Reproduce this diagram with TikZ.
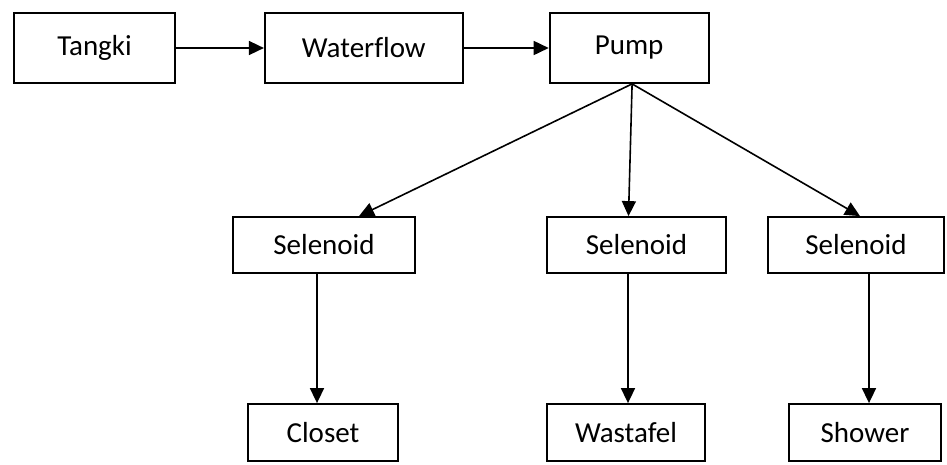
\documentclass[tikz,border=0pt]{standalone}
\usepackage{fontspec}
\setmainfont{Carlito}[Ligatures=NoCommon]
\usetikzlibrary{arrows.meta, positioning}
\tikzstyle{block}    = [rectangle, draw=black, line width=1.8pt, inner sep=0pt,
                         font=\fontsize{29}{35}\selectfont]
\tikzstyle{topblock} = [block, minimum height=70pt]
\tikzstyle{valve}    = [block, minimum height=56pt]
\tikzstyle{outlet}   = [block, minimum height=57pt]
\tikzstyle{arrow}    = [-{Triangle[length=15pt, width=14pt]}, line width=1.6pt]

\begin{document}
\begin{tikzpicture}[x=1pt, y=-1pt]
  \useasboundingbox (0,0) rectangle (947,464);

  \node[topblock, minimum width=161pt] (tangki) at (94.5,48) {Tangki};
  \node[topblock, minimum width=198pt, right=88pt of tangki] (waterflow) {Waterflow};
  \node[topblock, minimum width=159pt, right=85pt of waterflow] (pump) {Pump};

  \node[valve, minimum width=182pt] (sel1) at (324,245) {Selenoid};
  \node[valve, minimum width=179pt] (sel2) at (636.5,245) {Selenoid};
  \node[valve, minimum width=176pt] (sel3) at (856,245) {Selenoid};

  \node[outlet, minimum width=150pt] (closet) at (323,432.5) {Closet};
  \node[outlet, minimum width=158pt] (wastafel) at (626,432.5) {Wastafel};
  \node[outlet, minimum width=152pt] (shower) at (865,432.5) {Shower};

  \draw[arrow] (tangki) -- (waterflow);
  \draw[arrow] (waterflow) -- (pump);
  \draw[arrow] ([xshift=3pt]pump.south) -- ([xshift=35pt]sel1.north);
  \draw[arrow] ([xshift=3pt]pump.south) -- ([xshift=-8pt]sel2.north);
  \draw[arrow] ([xshift=3pt]pump.south) -- ([xshift=4pt]sel3.north);
  \draw[arrow] ([xshift=-7pt]sel1.south) -- ([xshift=-7pt]sel1.south |- closet.north);
  \draw[arrow] ([xshift=-8.5pt]sel2.south) -- ([xshift=-8.5pt]sel2.south |- wastafel.north);
  \draw[arrow] ([xshift=13pt]sel3.south) -- ([xshift=13pt]sel3.south |- shower.north);

\end{tikzpicture}
\end{document}
